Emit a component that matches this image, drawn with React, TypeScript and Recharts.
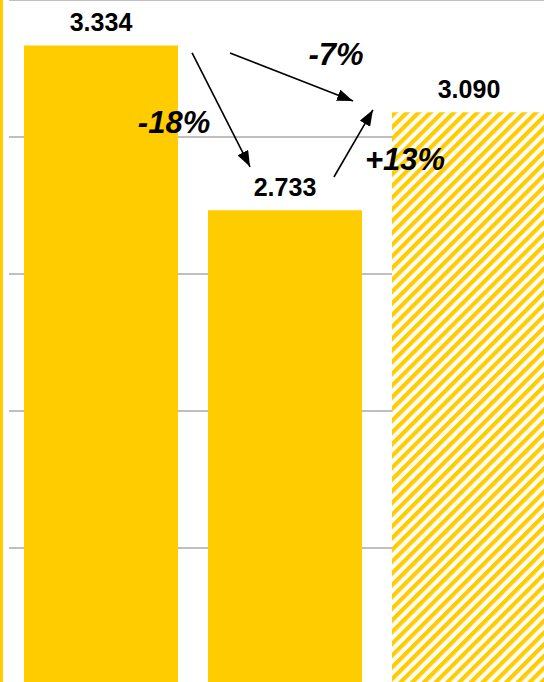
import { Bar, BarChart, CartesianGrid, Cell, LabelList, ReferenceDot, ReferenceLine, XAxis, YAxis } from "recharts";

const categories = ["P1", "P2", "P3"];
const values = [3.334, 2.733, 3.09];
const hatched = [false, false, true];
const yTicks = [0, 0.5, 1, 1.5, 2, 2.5, 3, 3.5];

// change annotations, positioned in data units (x: category slot space 0..3)
const changeTexts = [
  { text: "-18%", x: 0.897, y: 3.015 },
  { text: "-7%", x: 1.777, y: 3.263 },
  { text: "+13%", x: 2.152, y: 2.88 },
];
const arrows = [
  { x1: 0.995, y1: 3.307, x2: 1.31, y2: 2.891 },
  { x1: 1.201, y1: 3.307, x2: 1.87, y2: 3.131 },
  { x1: 1.766, y1: 2.854, x2: 1.978, y2: 3.099 },
];

// each category sits in the middle of its unit slot on a numeric x axis
const data = categories.map((name, i) => ({ name, pos: i + 0.5, value: values[i] }));

const YELLOW = "#FFCC00";
const FONT = "Arial, 'Liberation Sans', sans-serif";

const ArrowLine = (props: any) => (
  <line
    x1={props.x1}
    y1={props.y1}
    x2={props.x2}
    y2={props.y2}
    stroke="#000"
    strokeWidth={1.6}
    markerEnd="url(#arrowHead)"
  />
);

export default function App() {
  return (
    <div
      style={{
        position: "fixed",
        left: 0,
        top: 0,
        width: 544,
        height: 682,
        overflow: "hidden",
        background: "#fff",
      }}
    >
      <svg width={0} height={0} style={{ position: "absolute" }}>
        <defs>
          <pattern id="hatch" patternUnits="userSpaceOnUse" width={8.3} height={8.3} patternTransform="rotate(45)">
            <rect x={0} y={0} width={8.3} height={8.3} fill="#fff" />
            <rect x={0} y={0} width={4.2} height={8.3} fill={YELLOW} />
          </pattern>
          <marker
            id="arrowHead"
            markerUnits="userSpaceOnUse"
            markerWidth={16}
            markerHeight={12}
            refX={16}
            refY={6}
            orient="auto"
          >
            <path d="M0,0 L16,6 L0,12 z" fill="#000" />
          </marker>
        </defs>
      </svg>
      <div style={{ position: "absolute", left: 0, top: 0, width: 3, height: 682, background: YELLOW }} />
      <div style={{ position: "absolute", left: 0, top: 0 }}>
        <BarChart width={561} height={959} data={data} margin={{ top: 0, right: 0, bottom: 0, left: 9 }}>
          <CartesianGrid vertical={false} stroke="#AAAAAA" strokeWidth={1.5} />
          <XAxis dataKey="pos" type="number" domain={[0, 3]} hide allowDataOverflow />
          <YAxis domain={[0, 3.5]} ticks={yTicks} hide allowDataOverflow />
          <Bar dataKey="value" barSize={154} isAnimationActive={false}>
            {data.map((_e, i) => (
              <Cell key={`cell-${i}`} fill={hatched[i] ? "url(#hatch)" : YELLOW} />
            ))}
            <LabelList
              dataKey="value"
              position="top"
              offset={14}
              formatter={(v: any) => Number(v).toFixed(3)}
              style={{ fontFamily: FONT, fontSize: 25, fontWeight: 700, fill: "#000" }}
            />
          </Bar>
          {arrows.map((a, i) => (
            <ReferenceLine
              key={`arrow-${i}`}
              segment={[
                { x: a.x1, y: a.y1 },
                { x: a.x2, y: a.y2 },
              ]}
              shape={(p: any) => <ArrowLine {...p} />}
              ifOverflow="visible"
            />
          ))}
          {changeTexts.map((t, i) => (
            <ReferenceDot
              key={`txt-${i}`}
              x={t.x}
              y={t.y}
              r={0}
              ifOverflow="visible"
              shape={(p: any) => (
                <text
                  x={p.cx}
                  y={p.cy}
                  textAnchor="middle"
                  fontFamily={FONT}
                  fontSize={31}
                  fontWeight={700}
                  fontStyle="italic"
                  fill="#000"
                >
                  {t.text}
                </text>
              )}
            />
          ))}
        </BarChart>
      </div>
    </div>
  );
}
